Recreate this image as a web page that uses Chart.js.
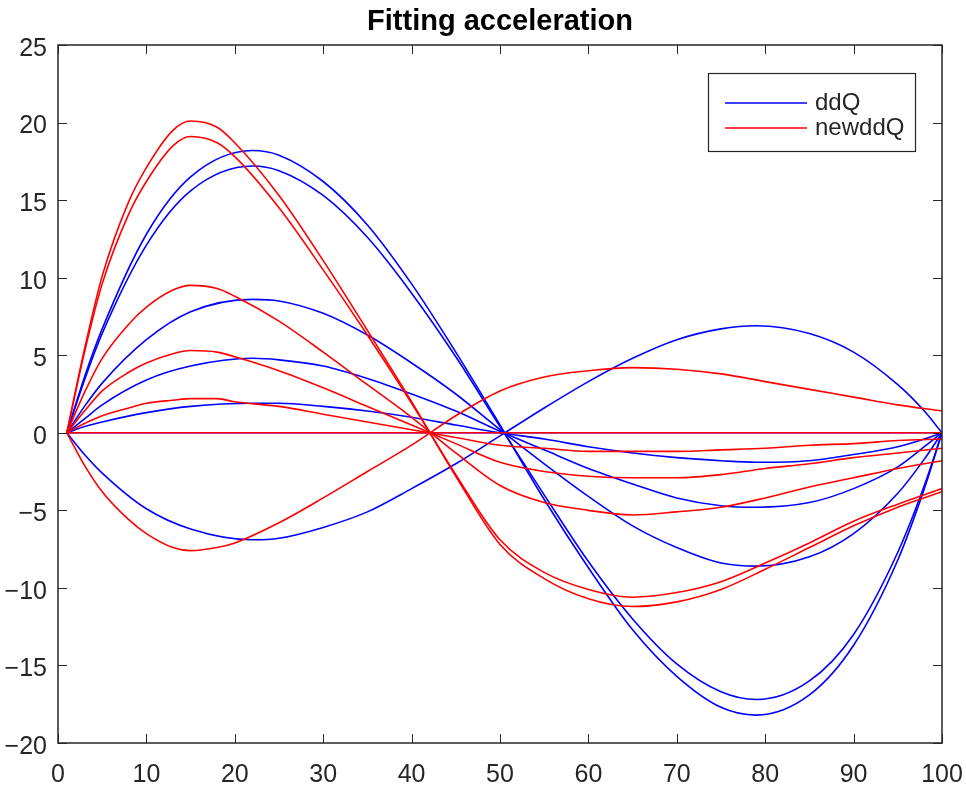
<!DOCTYPE html>
<html>
<head>
<meta charset="utf-8">
<title>Fitting acceleration</title>
<script src="https://cdn.jsdelivr.net/npm/chart.js@4.4.1/dist/chart.umd.min.js"></script>
<style>
  html, body { margin: 0; padding: 0; background: #fff; }
  #wrap { width: 966px; height: 791px; position: relative; }
</style>
</head>
<body>
<div id="wrap"><canvas id="chart"></canvas></div>
<script>
// sample positions
const xBlue = [1, 3, 5, 10, 15, 22, 25, 30, 35, 40, 45, 50, 55, 60, 65, 70, 75, 79, 85, 90, 95, 98, 100];
const xRed = [1, 3, 5, 8, 10, 13, 15, 18, 20, 25, 30, 35, 40, 45, 50, 55, 60, 65, 70, 75, 80, 85, 90, 95, 100];

// ddQ (blue)
const ddQ1 = [0, 3.6, 6.7, 12.8, 16.5, 18.2, 17.9, 16.2, 13.4, 9.6, 5.2, 0.5, -4.3, -8.7, -12.7, -15.7, -17.7, -18.2, -16.9, -13.7, -8.2, -3.6, 0];
const ddQ2 = [0, 3.4, 6.4, 12.1, 15.6, 17.2, 16.9, 15.3, 12.6, 9.0, 4.9, 0.4, -4.0, -8.3, -12.0, -14.9, -16.7, -17.2, -16.0, -13.0, -7.7, -3.4, 0];
const ddQ3 = [0, 1.7, 3.2, 6.0, 7.8, 8.6, 8.5, 7.7, 6.3, 4.5, 2.5, 0.2, -2.0, -4.1, -6.0, -7.4, -8.4, -8.6, -8.0, -6.5, -3.9, -1.7, 0];
const ddQ4 = [0, 0.9, 1.8, 3.4, 4.3, 4.8, 4.7, 4.3, 3.5, 2.5, 1.4, 0.1, -1.1, -2.3, -3.3, -4.2, -4.7, -4.8, -4.5, -3.6, -2.2, -0.9, 0];
const ddQ5 = [0, 0.4, 0.7, 1.3, 1.7, 1.9, 1.9, 1.7, 1.4, 1.0, 0.5, 0.0, -0.4, -0.9, -1.3, -1.6, -1.8, -1.9, -1.8, -1.4, -0.9, -0.4, 0];
const ddQ6 = [0, 0, 0, 0, 0, 0, 0, 0, 0, 0, 0, 0, 0, 0, 0, 0, 0, 0, 0, 0, 0, 0, 0];
const ddQ7 = [0, -1.4, -2.6, -4.9, -6.2, -6.9, -6.8, -6.1, -5.1, -3.6, -2.0, -0.2, 1.6, 3.3, 4.8, 6.0, 6.7, 6.9, 6.4, 5.2, 3.1, 1.4, 0];

// newddQ (red)
const newddQ1 = [0, 5.4, 10.1, 14.9, 17.1, 19.5, 20.1, 19.7, 18.7, 15.3, 11.1, 6.6, 2.0, -2.8, -7.2, -9.4, -10.7, -11.2, -10.9, -10.1, -8.8, -7.4, -6.0, -4.8, -3.8];
const newddQ2 = [0, 5.2, 9.6, 14.1, 16.2, 18.5, 19.1, 18.7, 17.8, 14.5, 10.5, 6.3, 1.9, -2.7, -6.9, -9.0, -10.1, -10.6, -10.3, -9.6, -8.4, -7.1, -5.7, -4.6, -3.6];
const newddQ3 = [0, 2.6, 4.8, 7.0, 8.1, 9.2, 9.5, 9.3, 8.8, 7.2, 5.2, 3.1, 1.0, -1.3, -3.4, -4.5, -5.0, -5.3, -5.1, -4.8, -4.2, -3.5, -2.9, -2.3, -1.8];
const newddQ4 = [0, 1.4, 2.7, 3.9, 4.5, 5.1, 5.3, 5.2, 4.9, 4.0, 2.9, 1.7, 0.5, -0.7, -1.9, -2.5, -2.8, -2.9, -2.9, -2.7, -2.3, -2.0, -1.6, -1.3, -1.0];
const newddQ5 = [0, 0.6, 1.1, 1.6, 1.9, 2.1, 2.2, 2.2, 2.0, 1.7, 1.2, 0.7, 0.2, -0.3, -0.8, -1.0, -1.2, -1.2, -1.2, -1.1, -1.0, -0.8, -0.7, -0.5, -0.4];
const newddQ6 = [0, 0, 0, 0, 0, 0, 0, 0, 0, 0, 0, 0, 0, 0, 0, 0, 0, 0, 0, 0, 0, 0, 0, 0, 0];
const newddQ7 = [0, -2.1, -3.8, -5.6, -6.5, -7.4, -7.6, -7.4, -7.1, -5.8, -4.2, -2.5, -0.8, 1.1, 2.7, 3.6, 4.0, 4.2, 4.1, 3.8, 3.3, 2.8, 2.3, 1.8, 1.4];

const blueSeries = [ddQ1, ddQ2, ddQ3, ddQ4, ddQ5, ddQ6, ddQ7];
const redSeries = [newddQ1, newddQ2, newddQ3, newddQ4, newddQ5, newddQ6, newddQ7];
const legendNames = ['ddQ', 'newddQ'];
const xTicks = [0, 10, 20, 30, 40, 50, 60, 70, 80, 90, 100];
const yTicks = [-20, -15, -10, -5, 0, 5, 10, 15, 20, 25];

const BLUE = '#0000ff';
const RED = '#ff0000';
const AXIS = '#262626';
const FONT = '"Liberation Sans", Arial, Helvetica, sans-serif';

function toPoints(xs, ys) {
  return xs.map((x, i) => ({ x: x, y: ys[i] }));
}

const datasets = [];
blueSeries.forEach((s, i) => datasets.push({
  label: legendNames[0] + ' ' + (i + 1),
  data: toPoints(xBlue, s),
  borderColor: BLUE, borderWidth: 1.6, pointRadius: 0,
  cubicInterpolationMode: 'monotone', fill: false, order: 2
}));
redSeries.forEach((s, i) => datasets.push({
  label: legendNames[1] + ' ' + (i + 1),
  data: toPoints(xRed, s),
  borderColor: RED, borderWidth: 1.6, pointRadius: 0,
  cubicInterpolationMode: 'monotone', fill: false, order: 1
}));

// box, inward ticks on all sides, title and legend (MATLAB look)
const matlabFrame = {
  id: 'matlabFrame',
  afterDraw(chart) {
    const { ctx, chartArea: a, scales } = chart;
    ctx.save();
    ctx.strokeStyle = AXIS;
    ctx.lineWidth = 1.5;
    ctx.strokeRect(a.left, a.top, a.right - a.left, a.bottom - a.top);
    ctx.lineWidth = 1;
    ctx.beginPath();
    const tl = 9;
    xTicks.forEach(v => {
      const px = Math.round(scales.x.getPixelForValue(v)) + 0.5;
      ctx.moveTo(px, a.bottom); ctx.lineTo(px, a.bottom - tl);
      ctx.moveTo(px, a.top); ctx.lineTo(px, a.top + tl);
    });
    yTicks.forEach(v => {
      const py = Math.round(scales.y.getPixelForValue(v)) + 0.5;
      ctx.moveTo(a.left, py); ctx.lineTo(a.left + tl, py);
      ctx.moveTo(a.right, py); ctx.lineTo(a.right - tl, py);
    });
    ctx.stroke();

    // title
    ctx.fillStyle = '#000';
    ctx.font = 'bold 29px ' + FONT;
    ctx.textAlign = 'center';
    ctx.textBaseline = 'middle';
    ctx.fillText('Fitting acceleration', (a.left + a.right) / 2, 22);

    // legend
    const lx = 708, ly = 73, lw = 207, lh = 78;
    ctx.fillStyle = '#fff';
    ctx.fillRect(lx, ly, lw, lh);
    ctx.strokeStyle = AXIS;
    ctx.lineWidth = 1.2;
    ctx.strokeRect(lx + 0.5, ly + 0.5, lw, lh);
    ctx.font = '24px ' + FONT;
    ctx.textAlign = 'left';
    [[BLUE, legendNames[0], 103], [RED, legendNames[1], 128]].forEach(([c, t, y]) => {
      ctx.strokeStyle = c;
      ctx.lineWidth = 1.6;
      ctx.beginPath();
      ctx.moveTo(lx + 17, y); ctx.lineTo(lx + 99, y);
      ctx.stroke();
      ctx.fillStyle = AXIS;
      ctx.fillText(t, lx + 107, y);
    });
    ctx.restore();
  }
};

const minus = v => String(v).replace('-', '\u2212');

new Chart(document.getElementById('chart'), {
  type: 'line',
  data: { datasets: datasets },
  options: {
    responsive: true,
    maintainAspectRatio: false,
    animation: false,
    layout: { padding: { top: 45, right: 24, bottom: 0, left: 0 } },
    plugins: {
      legend: { display: false },
      title: { display: false },
      tooltip: { enabled: false }
    },
    scales: {
      x: {
        type: 'linear', min: 0, max: 100,
        afterBuildTicks: s => { s.ticks = xTicks.map(v => ({ value: v })); },
        afterFit: s => { s.height = 48; s.paddingLeft = 0; s.paddingRight = 0; },
        grid: { display: false, drawTicks: false },
        border: { display: false },
        ticks: { color: AXIS, padding: 17, font: { family: FONT, size: 25 }, callback: minus }
      },
      y: {
        type: 'linear', min: -20, max: 25,
        afterBuildTicks: s => { s.ticks = yTicks.map(v => ({ value: v })); },
        afterFit: s => { s.width = 58; s.paddingTop = 0; s.paddingBottom = 0; },
        grid: { display: false, drawTicks: false },
        border: { display: false },
        ticks: { color: AXIS, padding: 11, labelOffset: 4, font: { family: FONT, size: 25 }, callback: minus }
      }
    }
  },
  plugins: [matlabFrame]
});
</script>
</body>
</html>
